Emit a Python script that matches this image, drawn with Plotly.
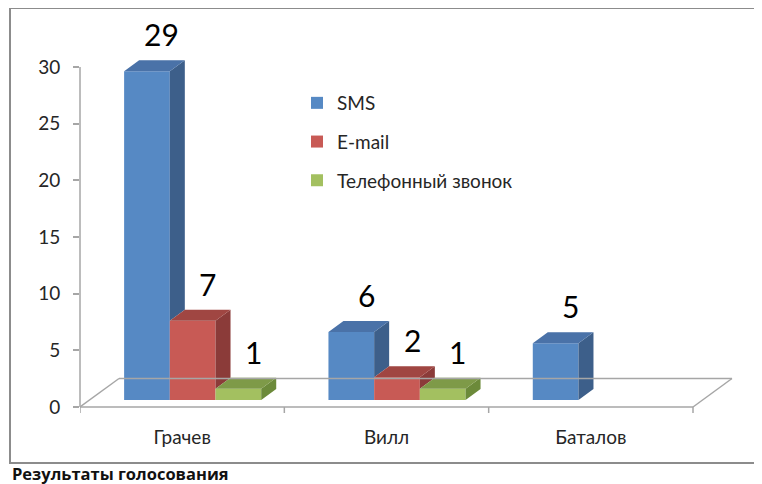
import plotly.graph_objects as go

# ---------------- data ----------------
categories = ["Грачев", "Вилл", "Баталов"]
series_names = ["SMS", "E-mail", "Телефонный звонок"]
sms = [29, 6, 5]
email = [7, 2, 0]
phone = [1, 1, 0]
y_ticks = [0, 5, 10, 15, 20, 25, 30]
title_text = "Результаты голосования"

series_values = [sms, email, phone]
front_colors = ["#5689C4", "#C85A55", "#A3C060"]
top_colors = ["#4A72A8", "#A04642", "#7E9A48"]
side_colors = ["#3D5F8A", "#8B3B39", "#6C8A3A"]

# ---------------- geometry (page-pixel based) ----------------
OFF = 8                   # page body margin
W, H = 762 - OFF, 484 - OFF
PL, PR = 80 - OFF, 742 - OFF      # plot area left/right (figure px)
PT, PB = 20 - OFF, 420 - OFF      # plot area top/bottom (figure px)
Y0PX = 407 - OFF                  # px of value 0
SX = (693 - 80) / 3.0             # px per category
SY = 340 / 30.0                   # px per value unit
xmax = (PR - PL) / SX
ymax = (Y0PX - PT) / SY
ymin = -(PB - Y0PX) / SY

BW = 45.7 / SX            # bar width
BDX, BDY = 15 / SX, 11 / SY        # bar depth
BZX, BZY = 10.5 / SX, 7 / SY       # bar position inside floor
FDX, FDY = 39 / SX, 28.5 / SY      # floor depth


def xp(px):
    """page px -> paper x"""
    return (px - OFF - PL) / (PR - PL)


def yp(py):
    """page px -> paper y"""
    return (PB - (py - OFF)) / (PB - PT)


fig = go.Figure()

# 3D faces (tops and visible sides)
for j, vals in enumerate(series_values):
    tx, ty, sx_, sy_ = [], [], [], []
    for i, v in enumerate(vals):
        if v <= 0:
            continue
        c = i + 0.5 + (j - 1) * BW + BZX
        xl, xr = c - BW / 2, c + BW / 2
        b = BZY
        t = b + v
        tx += [xl, xl + BDX, xr + BDX, xr, xl, None]
        ty += [t, t + BDY, t + BDY, t, t, None]
        nxt = series_values[j + 1][i] if j + 1 < len(series_values) else 0
        low = b + nxt if nxt > 0 else b
        if nxt < v:
            sx_ += [xr, xr + BDX, xr + BDX, xr, xr, None]
            sy_ += [low, low + BDY, t + BDY, t, low, None]
    fig.add_trace(go.Scatter(x=sx_, y=sy_, mode="lines", fill="toself",
                             fillcolor=side_colors[j], line=dict(width=0),
                             showlegend=False, hoverinfo="skip"))
    fig.add_trace(go.Scatter(x=tx, y=ty, mode="lines", fill="toself",
                             fillcolor=top_colors[j], line=dict(width=0),
                             showlegend=False, hoverinfo="skip"))

# front faces as bars
for j, vals in enumerate(series_values):
    centers = [i + 0.5 + (j - 1) * BW + BZX for i in range(len(categories))]
    fig.add_trace(go.Bar(x=centers, y=vals, base=[BZY] * len(vals), width=BW,
                         marker=dict(color=front_colors[j], line=dict(width=0)),
                         name=series_names[j], legendgroup=series_names[j],
                         hoverinfo="skip"))

# value labels
annotations = []
for j, vals in enumerate(series_values):
    for i, v in enumerate(vals):
        if v <= 0:
            continue
        c = i + 0.5 + (j - 1) * BW + BZX
        annotations.append(dict(x=c + BDX, y=BZY + v + BDY, xref="x", yref="y",
                                text=str(v), showarrow=False, yshift=26,
                                yanchor="middle",
                                font=dict(family="Lato", size=30, color="#000000")))

annotations.append(dict(x=xp(10), y=yp(473), xref="paper", yref="paper",
                        text="<b>" + title_text + "</b>", showarrow=False,
                        xanchor="left", yanchor="middle",
                        font=dict(family="Open Sans", size=16.5, color="#111111")))

# floor, axis lines and borders
gray = "#A6A6A6"
shapes = []
ncat = len(categories)
floor_pts = [(0, 0), (FDX, FDY), (ncat + FDX, FDY), (ncat, 0), (0, 0)]
for (x0, y0), (x1, y1) in zip(floor_pts[:-1], floor_pts[1:]):
    shapes.append(dict(type="line", xref="x", yref="y", x0=x0, y0=y0, x1=x1, y1=y1,
                       line=dict(color=gray, width=1.5)))
for k in range(ncat + 1):
    shapes.append(dict(type="line", xref="x", yref="y", x0=k, x1=k, y0=0,
                       y1=-6 / SY, line=dict(color=gray, width=1.5)))
shapes.append(dict(type="line", xref="paper", yref="y", x0=0, x1=0,
                   y0=0, y1=y_ticks[-1], line=dict(color=gray, width=1.5)))

# outer frame (open on the right, continues past the canvas edge)
border = "#8C8C8C"
frame = (f"M{xp(790)},{yp(8)} L{xp(10)},{yp(8)} "
         f"L{xp(10)},{yp(463)} L{xp(790)},{yp(463)}")
shapes.append(dict(type="path", xref="paper", yref="paper", path=frame,
                   line=dict(color=border, width=2)))

fig.update_layout(
    width=W, height=H,
    margin=dict(l=PL, r=W - PR, t=PT, b=H - PB, pad=0),
    paper_bgcolor="white", plot_bgcolor="white",
    barmode="overlay",
    font=dict(family="Lato", size=19, color="#262626"),
    xaxis=dict(range=[0, xmax], tickvals=[i + 0.5 for i in range(ncat)],
               ticktext=categories, showgrid=False, zeroline=False,
               showline=False, ticks="", ticklabelstandoff=4,
               tickfont=dict(family="Lato", size=19, color="#262626")),
    yaxis=dict(range=[ymin, ymax], tickvals=y_ticks, showgrid=False,
               zeroline=False, showline=False, ticks="outside", ticklen=6,
               tickcolor=gray, tickwidth=1.5, ticklabelstandoff=9,
               tickfont=dict(family="Lato", size=19, color="#262626")),
    legend=dict(x=xp(297), y=yp(84), xanchor="left", yanchor="top",
                tracegroupgap=11, bgcolor="rgba(0,0,0,0)",
                font=dict(family="Lato", size=19, color="#262626")),
    shapes=shapes,
    annotations=annotations,
)

fig.write_html("out.html")
